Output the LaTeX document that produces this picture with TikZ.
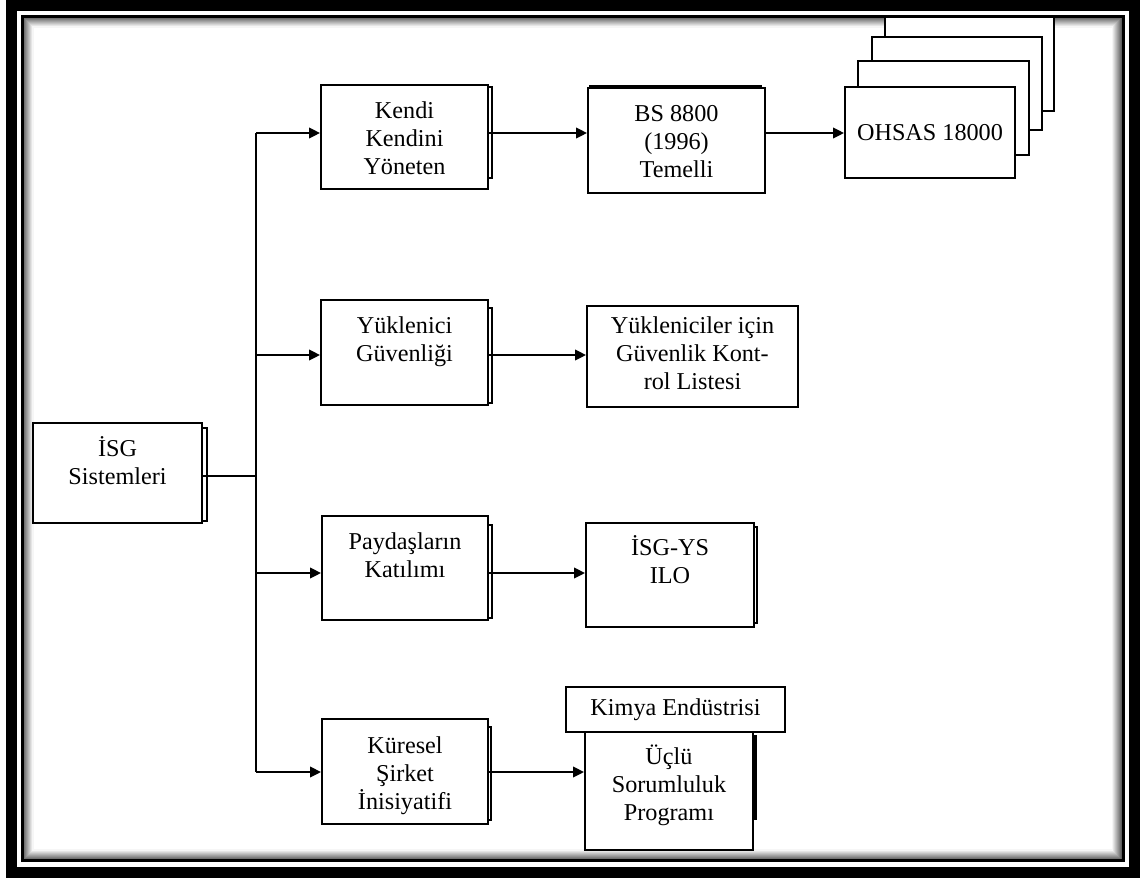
\documentclass[tikz,border=0pt]{standalone}
\usepackage{fontspec}
\setmainfont{Liberation Serif}
\usetikzlibrary{arrows.meta,calc}
\newcommand\firstln{\rule{0pt}{22pt}}
\begin{document}
\begin{tikzpicture}[x=1pt,y=-1pt,
  bx/.style={draw=black, line width=1.9pt, fill=white, inner sep=0pt},
  shd/.style={draw=black, line width=1.9pt, fill=white},
  lbl/.style={anchor=north, inner sep=0pt, align=center, font=\fontsize{24.2}{28.2}\selectfont},
  one/.style={inner sep=0pt, font=\fontsize{24.2}{28.2}\selectfont},
  con/.style={line width=1.9pt},
  arr/.style={con, -{Triangle[length=11pt,width=10.5pt]}}]
\useasboundingbox (0,0) rectangle (1148,878);
% inner shadow of the frame
\foreach \i in {0,...,9}{
  \pgfmathsetmacro\cc{62-6.5*\i}
  \draw[black!\cc, line width=1.1pt] ({24+\i},{18+\i}) rectangle ({1121.5-\i},{859-\i});
}
% stacked sheets behind the boxes
\draw[shd] (40,428) rectangle (207,521);
\draw[shd] (330,87) rectangle (492,178);
\draw[shd] (590,86) rectangle (761,180);
\draw[shd] (885,16) rectangle (1054,111);
\draw[shd] (872,37) rectangle (1042,130);
\draw[shd] (858,61) rectangle (1029,155);
\draw[shd] (330,308) rectangle (492,403);
\draw[shd] (330,525) rectangle (492,618);
\draw[shd] (595,527) rectangle (757,623);
\draw[shd] (330,727) rectangle (491,820);
\draw[shd, line width=2.4pt] (600,736) rectangle (755.5,819);
% boxes
\node[bx, minimum width=169pt, minimum height=100pt] (isg) at (117.5,473) {};
\node[bx, minimum width=167pt, minimum height=104pt] (kendi) at (404.5,137) {};
\node[bx, minimum width=177pt, minimum height=105pt] (bs) at (676.5,140.5) {};
\node[bx, minimum width=170pt, minimum height=91pt, one] (ohsas) at (930,132.5) {OHSAS 18000};
\node[bx, minimum width=167pt, minimum height=105pt] (yuk) at (404.5,352.5) {};
\node[bx, minimum width=211pt, minimum height=101pt] (yukl) at (692.5,356.5) {};
\node[bx, minimum width=166pt, minimum height=104pt] (pay) at (405,568) {};
\node[bx, minimum width=168pt, minimum height=104pt] (isgys) at (670,575) {};
\node[bx, minimum width=166pt, minimum height=105pt] (kur) at (405,771.5) {};
\node[bx, minimum width=168pt, minimum height=118pt] (uclu) at (669,791) {};
\node[bx, minimum width=219pt, minimum height=45pt, one] (kimya) at (675.5,709.5) {Kimya Endüstrisi};
% texts
\node[lbl] (isgt) at ([yshift=-12pt]isg.north) {\firstln İSG\\Sistemleri};
\node[lbl] (kendit) at ([yshift=-12pt]kendi.north) {\firstln Kendi\\Kendini\\Yöneten};
\node[lbl] (bst) at ([yshift=-12pt]bs.north) {\firstln BS 8800\\(1996)\\Temelli};
\node[lbl] (yukt) at ([yshift=-12pt]yuk.north) {\firstln Yüklenici\\Güvenliği};
\node[lbl] (yuklt) at ([yshift=-6pt]yukl.north) {\firstln Yükleniciler için\\Güvenlik Kont-\\rol Listesi};
\node[lbl] (payt) at ([yshift=-12pt]pay.north) {\firstln Paydaşların\\Katılımı};
\node[lbl] (isgyst) at ([yshift=-11pt]isgys.north) {\firstln İSG-YS\\ILO};
\node[lbl] (kurt) at ([yshift=-13pt]kur.north) {\firstln Küresel\\Şirket\\İnisiyatifi};
\node[lbl] (uclut) at ([yshift=-11pt]uclu.north) {\firstln Üçlü\\Sorumluluk\\Programı};
% connectors
\coordinate (jt) at (256,133);
\coordinate (j2) at (256,355);
\coordinate (jm) at (256,476);
\coordinate (j3) at (256,573);
\coordinate (jb) at (256,772);
\draw[con] (jm -| isg.east) -- (jm);
\draw[con] (jt) -- (jb);
\draw[arr] (jt) -- (jt -| kendi.west);
\draw[arr] (j2) -- (j2 -| yuk.west);
\draw[arr] (j3) -- (j3 -| pay.west);
\draw[arr] (jb) -- (jb -| kur.west);
\draw[arr] (jt -| kendi.east) -- (jt -| bs.west);
\draw[arr] (jt -| bs.east) -- (jt -| ohsas.west);
\draw[arr] (j2 -| yuk.east) -- (j2 -| yukl.west);
\draw[arr] (j3 -| pay.east) -- (j3 -| isgys.west);
\draw[arr] (jb -| kur.east) -- (jb -| uclu.west);
% frame
\draw[line width=3pt] (22,16) rectangle (1123,860.5);
\draw[line width=11pt] (11.5,5.5) rectangle (1134,872);
\end{tikzpicture}
\end{document}
